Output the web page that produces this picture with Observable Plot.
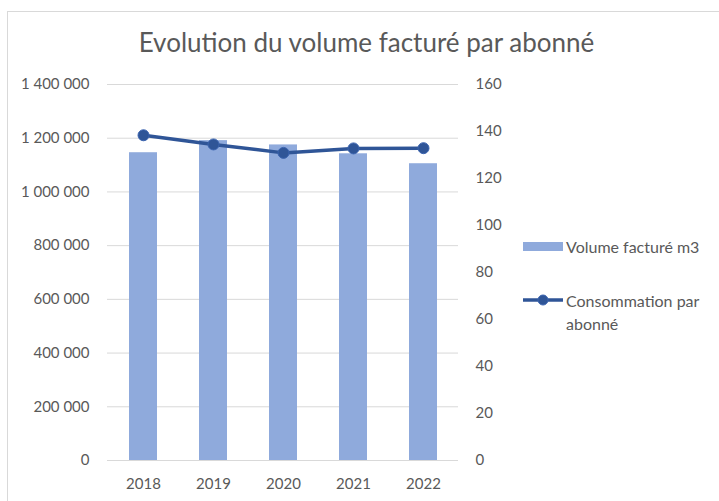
<!DOCTYPE html>
<html>
<head>
<meta charset="utf-8">
<script src="https://cdn.jsdelivr.net/npm/d3@7"></script>
<script src="https://cdn.jsdelivr.net/npm/@observablehq/plot@0.6"></script>
<style>
  html, body { margin: 0; padding: 0; background: #fff; }
  #wrap { position: relative; width: 719px; height: 501px; overflow: hidden; font-family: Lato, "Open Sans", sans-serif; color: #595959; }
  #frame { position: absolute; left: 7px; top: 11px; width: 760px; height: 560px; border: 1px solid #d9d9d9; box-sizing: border-box; }
  #title { position: absolute; left: 0; width: 733px; top: 27px; text-align: center; font-size: 26px; line-height: 30px; color: #595959; white-space: nowrap; }
  #chart { position: absolute; left: 0; top: 0; }
  .leg { position: absolute; font-size: 16px; color: #595959; line-height: 23px; }
</style>
</head>
<body>
<div id="wrap">
  <div id="frame"></div>
  <div id="chart"></div>
  <div id="title"></div>
  <div id="legend"></div>
</div>
<script>
const titleText = "Evolution du volume facturé par abonné";
const years = ["2018", "2019", "2020", "2021", "2022"];
const volume = [1146000, 1191000, 1175000, 1142000, 1105000];
const consommation = [138.4, 134.5, 130.9, 132.8, 132.9];
const leftTicks = [0, 200000, 400000, 600000, 800000, 1000000, 1200000, 1400000];
const rightTicks = [0, 20, 40, 60, 80, 100, 120, 140, 160];
const seriesNames = ["Volume facturé m3", "Consommation par abonné"];

const barColor = "#8faadc";
const lineColor = "#2f5597";
const factor = 1400000 / 160;

const barData = years.map((y, i) => ({year: y, value: volume[i]}));
const lineData = years.map((y, i) => ({year: y, value: consommation[i], scaled: consommation[i] * factor}));
const fmt = d => d3.format(",")(d).replace(/,/g, " ");

const chart = Plot.plot({
  width: 719,
  height: 501,
  marginLeft: 107,
  marginRight: 261,
  marginTop: 84,
  marginBottom: 41,
  style: {fontFamily: "Lato, 'Open Sans', sans-serif", fontSize: "15px", color: "#595959", background: "transparent"},
  x: {domain: years, paddingInner: 0.6, paddingOuter: 0.3, label: null},
  y: {domain: [0, 1400000], label: null},
  marks: [
    Plot.gridY(leftTicks, {stroke: "#d9d9d9", strokeOpacity: 1}),
    Plot.barY(barData, {x: "year", y: "value", fill: barColor}),
    Plot.ruleY([0], {stroke: "#d9d9d9"}),
    Plot.line(lineData, {x: "year", y: "scaled", stroke: lineColor, strokeWidth: 3.5}),
    Plot.dot(lineData, {x: "year", y: "scaled", r: 5.5, fill: lineColor, stroke: "#3b64b0", strokeWidth: 1}),
    Plot.axisY(leftTicks, {anchor: "left", tickSize: 0, tickPadding: 18, tickFormat: fmt, label: null, fill: "#595959"}),
    Plot.axisY(rightTicks.map(v => v * factor), {anchor: "right", tickSize: 0, tickPadding: 17, tickFormat: d => String(Math.round(d / factor)), label: null, fill: "#595959"}),
    Plot.axisX({tickSize: 0, tickPadding: 18, label: null, fill: "#595959"})
  ]
});
document.getElementById("chart").appendChild(chart);
document.getElementById("title").textContent = titleText;

const legend = document.getElementById("legend");
legend.innerHTML = `
  <div style="position:absolute;left:523px;top:242px;width:40px;height:9px;background:${barColor}"></div>
  <div class="leg" style="left:566px;top:235px;white-space:nowrap">${seriesNames[0]}</div>
  <svg style="position:absolute;left:520px;top:292px" width="46" height="16">
    <line x1="3" y1="8" x2="43" y2="8" stroke="${lineColor}" stroke-width="3.5"/>
    <circle cx="23" cy="8" r="5" fill="${lineColor}" stroke="#3b64b0"/>
  </svg>
  <div class="leg" style="left:566px;top:289px;width:150px">${seriesNames[1]}</div>
`;
</script>
</body>
</html>
